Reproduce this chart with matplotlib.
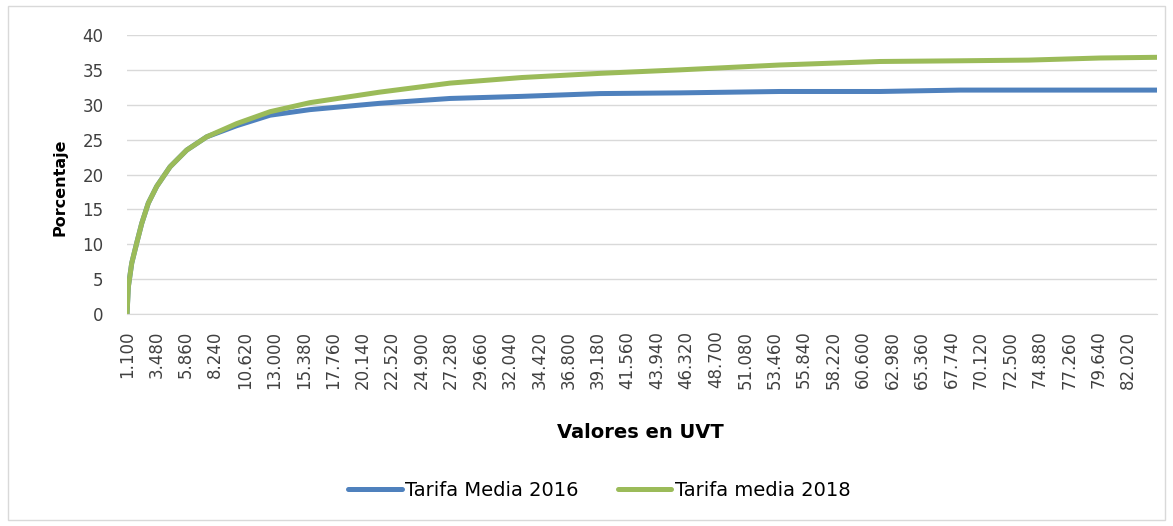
import matplotlib
matplotlib.use("Agg")
from matplotlib import pyplot as plt
from matplotlib.patches import Rectangle

# valores (UVT vs porcentaje)
uvt = [1100, 1205, 1480, 1885, 2290, 2820, 3500, 4575, 5925, 7540, 9970,
       12660, 15890, 21500, 27210, 33000, 39340, 45800, 53890, 61970,
       68440, 74000, 79760, 84360]
tarifa_2016 = [0, 3.9, 7.3, 10.2, 13.0, 15.9, 18.3, 21.1, 23.5, 25.4, 27.0,
               28.5, 29.3, 30.2, 30.9, 31.2, 31.6, 31.7, 31.9, 31.9,
               32.1, 32.1, 32.1, 32.1]
tarifa_2018 = [0, 3.9, 7.3, 10.2, 13.0, 15.9, 18.3, 21.1, 23.5, 25.4, 27.3,
               29.0, 30.3, 31.8, 33.1, 33.9, 34.5, 35.0, 35.7, 36.2,
               36.3, 36.4, 36.7, 36.8]
ticks_x = list(range(1100, 82021, 2380))
etiquetas_x = [format(t, ",").replace(",", ".") for t in ticks_x]
ticks_y = [0, 5, 10, 15, 20, 25, 30, 35, 40]

fig = plt.figure(figsize=(11.73, 5.26), dpi=100)
fig.patches.append(Rectangle((0.007, 0.011), 0.986, 0.977, transform=fig.transFigure,
                             fill=False, edgecolor="#D9D9D9", linewidth=1))
ax = fig.add_axes([0.1083, 0.403, 0.8781, 0.5305])

ax.plot(uvt, tarifa_2016, color="#4F81BD", linewidth=3.6, label="Tarifa Media 2016",
        solid_capstyle="round")
ax.plot(uvt, tarifa_2018, color="#9BBB59", linewidth=3.6, label="Tarifa media 2018",
        solid_capstyle="round")

ax.set_xlim(1100, 84360)
ax.set_ylim(0, 40)
ax.set_yticks(ticks_y)
ax.set_xticks(ticks_x)
ax.set_xticklabels(etiquetas_x, rotation=90, fontsize=12, color="#404040")
ax.tick_params(axis="y", length=0, pad=17, labelsize=12, labelcolor="#404040")
ax.tick_params(axis="x", length=0, pad=12)
ax.grid(axis="y", color="#D9D9D9", linewidth=1)
ax.set_axisbelow(True)
for s in ["top", "right", "left"]:
    ax.spines[s].set_visible(False)
ax.spines["bottom"].set_color("#D9D9D9")

ax.set_ylabel("Porcentaje", fontsize=11.5, fontweight="bold")
ax.yaxis.set_label_coords(-0.058, 0.455)
ax.set_xlabel("Valores en UVT", fontsize=14, fontweight="bold")
ax.xaxis.set_label_coords(0.498, -0.39)

fig.legend(loc="center", bbox_to_anchor=(0.511, 0.068), ncol=2, frameon=False,
           fontsize=14, handlelength=2.75, handletextpad=0.2, columnspacing=2.0)

fig.savefig("out.png", dpi=100)
